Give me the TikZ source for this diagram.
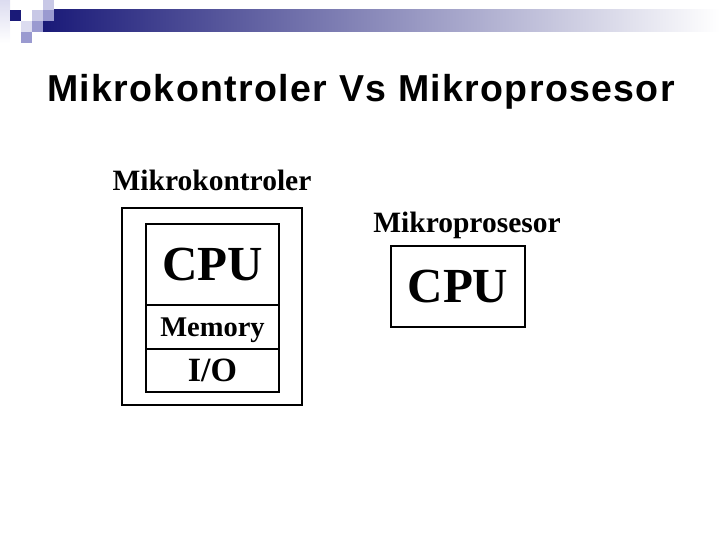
\documentclass[tikz,border=0pt]{standalone}
\usepackage{fontspec}
\setmainfont{Liberation Serif}
\newfontfamily\titlefont{Liberation Sans}[LetterSpace=3.6]
\usetikzlibrary{positioning}
\definecolor{navy}{HTML}{1A1A78}
\definecolor{barmid}{HTML}{B4B4C8}
\definecolor{sqlight}{HTML}{C8C8E6}
\definecolor{sqmid}{HTML}{9A9AD0}
\definecolor{sqpale}{HTML}{DCDCF0}

\tikzset{
	block/.style={draw=black,line width=2pt,inner sep=0pt,outer sep=0pt,text depth=0pt},
	caption/.style={inner sep=0pt,text depth=0pt,font=\fontsize{29.5}{29.5}\selectfont\bfseries},
	deco/.style={draw=none,fill=#1}
}

\begin{document}
\begin{tikzpicture}[x=1pt,y=-1pt]
	\useasboundingbox (0,0) rectangle (720,540);
	%% the slide band and corner squares
	\shade[left color=navy,middle color=barmid,right color=white] (43,10) rectangle (720,32);
	\shade[top color=sqpale,bottom color=white] (0,0) rectangle (10,43);
	\fill[deco=navy] (10,10) rectangle (21,21);
	\fill[deco=sqlight] (32,10) rectangle (43,21);
	\fill[deco=sqlight] (43,-1) rectangle (54,10);
	\fill[deco=sqmid] (43,10) rectangle (54,21);
	\fill[deco=sqpale] (21,21) rectangle (32,32);
	\fill[deco=sqmid] (32,21) rectangle (43,32);
	\fill[deco=sqmid] (21,32) rectangle (32,43);
	%% the title
	\node[anchor=base,inner sep=0pt] (title) at (361,102) {\titlefont\bfseries\fontsize{37.5}{37.5}\selectfont Mikrokontroler Vs Mikroprosesor};
	%% microcontroller
	\node[block,minimum width=180pt,minimum height=197pt] (mcu) at (212,306.5) {};
	\node[caption,above=17pt of mcu] (mcutext) {Mikrokontroler};
	\node[block,minimum width=133pt,minimum height=81pt,font=\fontsize{49}{49}\selectfont\bfseries] (cpuA) at (212.5,264.5) {CPU};
	\node[block,minimum width=133pt,minimum height=44pt,font=\fontsize{28.5}{28.5}\selectfont\bfseries,below=0pt of cpuA] (mem) {Memory};
	\node[block,minimum width=133pt,minimum height=43pt,font=\fontsize{34}{34}\selectfont\bfseries,below=0pt of mem] (io) {I/O};
	%% microprocessor
	\node[block,minimum width=134pt,minimum height=81pt,font=\fontsize{49}{49}\selectfont\bfseries] (cpuB) at (458,286.5) {CPU};
	\node[caption,above=13pt of cpuB,xshift=9pt] (mputext) {Mikroprosesor};
\end{tikzpicture}
\end{document}
